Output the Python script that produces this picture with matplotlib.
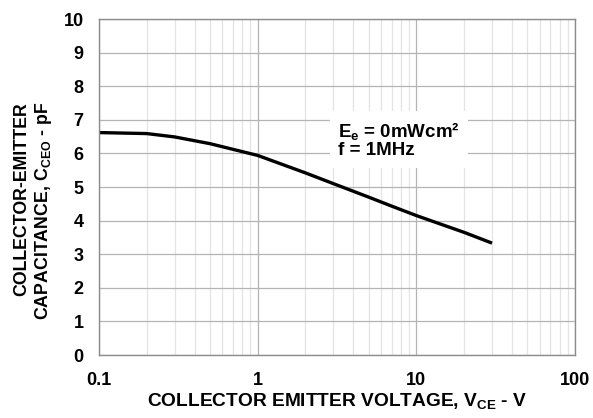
import numpy as np
import matplotlib
matplotlib.use('Agg')
import matplotlib.pyplot as plt
from matplotlib.ticker import FixedLocator, FixedFormatter, LogLocator, NullFormatter

plt.rcParams['font.family'] = ['Liberation Sans', 'DejaVu Sans']
plt.rcParams['font.weight'] = 'bold'
plt.rcParams['mathtext.fontset'] = 'custom'
plt.rcParams['mathtext.rm'] = 'Liberation Sans:bold'
plt.rcParams['mathtext.it'] = 'Liberation Sans:bold'
plt.rcParams['mathtext.bf'] = 'Liberation Sans:bold'

# curve
vce = [0.1, 0.2, 0.3, 0.5, 0.7, 1, 2, 3, 5, 7, 10, 20, 30]
cceo = [6.62, 6.59, 6.49, 6.29, 6.12, 5.94, 5.42, 5.1, 4.7, 4.43, 4.15, 3.65, 3.33]

xticks = [0.1, 1, 10, 100]
xlabels = ['0.1', '1', '10', '100']
yticks = list(range(0, 11))

fig = plt.figure(figsize=(5.93, 4.18), dpi=100)
ax = fig.add_axes([99/593, 1 - 355/418, (575-99)/593, (355-19)/418])

ax.set_xscale('log')
ax.set_xlim(0.1, 100)
ax.set_ylim(0, 10)

ax.xaxis.set_major_locator(FixedLocator(xticks))
ax.xaxis.set_major_formatter(FixedFormatter(xlabels))
ax.xaxis.set_minor_locator(LogLocator(base=10, subs=np.arange(2, 10)))
ax.xaxis.set_minor_formatter(NullFormatter())
ax.set_yticks(yticks)

ax.grid(True, which='major', color='#b4b4b4', lw=0.9)
ax.grid(True, which='minor', axis='x', color='#e4e4e4', lw=0.9)
ax.set_axisbelow(True)
ax.tick_params(which='both', length=0, labelsize=13)
ax.tick_params(axis='y', pad=11)
ax.tick_params(axis='x', pad=12)
for lab in ax.get_xticklabels() + ax.get_yticklabels():
    lab.set_fontweight('bold')
for s in ax.spines.values():
    s.set_color('#8c8c8c')
    s.set_linewidth(1.0)

ax.plot(vce, cceo, color='black', lw=2.4, solid_capstyle='butt')

ax.text(0.502, 0.70, 'E$_{e}$ = 0mWcm\u00b2\nf = 1MHz', transform=ax.transAxes,
        fontsize=13.5, fontweight='bold', va='top', ha='left', linespacing=1.05,
        bbox=dict(facecolor='white', edgecolor='none', pad=6))

ax.set_xlabel('COLLECTOR EMITTER VOLTAGE, V$_{CE}$ - V', fontsize=13.8, fontweight='bold', labelpad=2)
fig.text(34/593, 1 - 211/418, 'COLLECTOR-EMITTER\nCAPACITANCE, C$_{CEO}$ - pF', rotation=90,
         fontsize=12.8, fontweight='bold', ha='center', va='center', multialignment='right',
         linespacing=1.2)

fig.savefig('out.png', dpi=100)
